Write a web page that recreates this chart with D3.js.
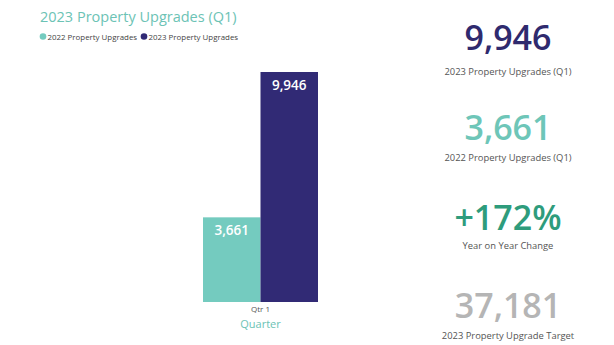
<!DOCTYPE html>
<html>
<head>
<meta charset="utf-8">
<script src="https://cdn.jsdelivr.net/npm/d3@7"></script>
<style>
  html, body { margin: 0; padding: 0; background: #ffffff; }
  svg { display: block; font-family: "Segoe UI", "Open Sans", "Noto Sans", sans-serif; }
</style>
</head>
<body>
<svg id="chart" width="614" height="345"></svg>
<script>
const title = "2023 Property Upgrades (Q1)";
const categories = ["Qtr 1"];
const seriesNames = ["2022 Property Upgrades", "2023 Property Upgrades"];
const values2022 = [3661];
const values2023 = [9946];
const seriesColors = ["#74cbbf", "#312a75"];
const xAxisTitle = "Quarter";
const kpiValues = ["9,946", "3,661", "+172%", "37,181"];
const kpiLabels = ["2023 Property Upgrades (Q1)", "2022 Property Upgrades (Q1)", "Year on Year Change", "2023 Property Upgrade Target"];
const kpiColors = ["#2f2a6e", "#6ec6b8", "#2e9c7c", "#b5b5b5"];

const svg = d3.select("#chart");

// Title
svg.append("text")
  .attr("x", 40).attr("y", 22)
  .attr("fill", "#6cc3b5")
  .attr("font-size", 14.5)
  .text(title);

// Legend
const legendX = [43, 144];
seriesNames.forEach((name, i) => {
  svg.append("circle").attr("cx", legendX[i]).attr("cy", 36.5).attr("r", 3.3).attr("fill", seriesColors[i]);
  svg.append("text").attr("x", legendX[i] + 4.5).attr("y", 39.5)
    .attr("fill", "#444").attr("font-size", 7.9).text(name);
});

// Scales
const yScale = d3.scaleLinear().domain([0, d3.max(values2023)]).range([302, 72]);
const x0 = d3.scaleBand().domain(categories).range([203, 318]).padding(0);
const x1 = d3.scaleBand().domain(seriesNames).range([0, x0.bandwidth()]).padding(0);

const rows = categories.map((c, i) => ({ cat: c, vals: [values2022[i], values2023[i]] }));

const g = svg.append("g");
rows.forEach(r => {
  r.vals.forEach((v, j) => {
    const bx = x0(r.cat) + x1(seriesNames[j]);
    g.append("rect")
      .attr("x", bx).attr("y", yScale(v))
      .attr("width", x1.bandwidth()).attr("height", yScale(0) - yScale(v))
      .attr("fill", seriesColors[j]);
    g.append("text")
      .attr("x", bx + x1.bandwidth() / 2)
      .attr("y", yScale(v) + 18)
      .attr("text-anchor", "middle")
      .attr("fill", "#ffffff")
      .attr("font-size", 13.5)
      .attr("font-weight", 600)
      .text(d3.format(",")(v));
  });
});

// X axis (no line/ticks)
const xAxis = svg.append("g").attr("transform", "translate(0,302)")
  .call(d3.axisBottom(x0).tickSize(0).tickPadding(4));
xAxis.select(".domain").remove();
xAxis.selectAll("text").attr("font-size", 8).attr("fill", "#555")
  .attr("font-family", "'Segoe UI', 'Open Sans', sans-serif");

svg.append("text")
  .attr("x", (x0.range()[0] + x0.range()[1]) / 2).attr("y", 328)
  .attr("text-anchor", "middle").attr("fill", "#6cc3b5").attr("font-size", 11)
  .text(xAxisTitle);

// KPI cards
const kpiX = 508;
const numY = [50, 140, 230, 318];
const labY = [75, 161, 249, 339];
kpiValues.forEach((v, i) => {
  svg.append("text").attr("x", kpiX).attr("y", numY[i])
    .attr("text-anchor", "middle").attr("fill", kpiColors[i])
    .attr("font-size", 34).attr("font-weight", 600).text(v);
  svg.append("text").attr("x", kpiX).attr("y", labY[i])
    .attr("text-anchor", "middle").attr("fill", "#555").attr("font-size", 9.4).text(kpiLabels[i]);
});
</script>
</body>
</html>
